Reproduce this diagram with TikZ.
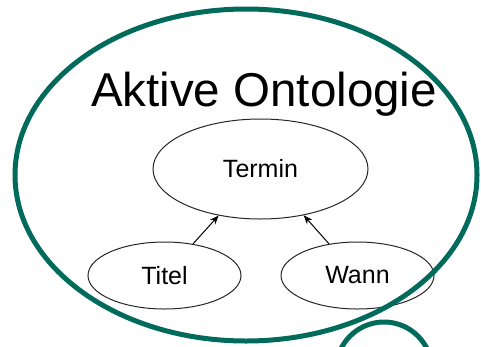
\documentclass[tikz,border=0pt]{standalone}
\usepackage{fontspec}
\setmainfont{Liberation Sans}
\usetikzlibrary{shapes.geometric,arrows.meta}
\definecolor{ontogreen}{RGB}{0,107,91}
\tikzset{
  concept/.style={ellipse, draw=black!85, line width=1pt, fill=white, inner sep=0pt,
                  font=\fontsize{25}{30}\selectfont},
  ring/.style={draw=ontogreen, line width=5pt},
  isa/.style={-{Stealth[length=9pt,width=7pt]}, line width=1pt, black}
}
\begin{document}
\begin{tikzpicture}[x=1pt,y=-1pt]
  \useasboundingbox (0,0) rectangle (481,346);
  % small bubble below the ontology
  \draw[ring] (384,370) circle[radius=48];
  % concepts
  \node[concept, minimum width=215, minimum height=100] (termin) at (260.5,169) {Termin};
  \node[concept, minimum width=153, minimum height=67] (titel) at (164.5,275.5) {Titel};
  \node[concept, minimum width=153, minimum height=67] (wann) at (357.5,275.5) {Wann};
  \draw[isa] (titel.48) -- (termin.-132.8);
  \draw[isa] (wann.132) -- (termin.-47.2);
  % ontology boundary
  \draw[ring] (246,175) ellipse[x radius=231, y radius=166];
  \node[anchor=base, inner sep=0pt, font=\fontsize{47.5}{55}\selectfont] (title) at (264,106) {Aktive Ontologie};
\end{tikzpicture}
\end{document}
